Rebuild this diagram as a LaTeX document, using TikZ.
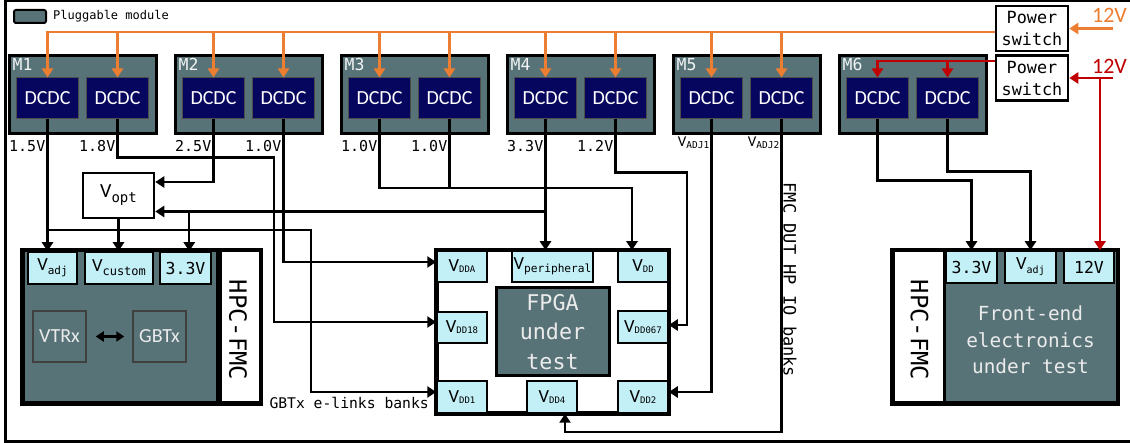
\documentclass[tikz,border=0pt]{standalone}
\usepackage{fontspec}
\newfontfamily\sansf{Carlito}
\newfontfamily\monof{DejaVu Sans Mono}
\usetikzlibrary{arrows.meta}
\definecolor{slate}{HTML}{587378}
\definecolor{navy}{HTML}{06065F}
\definecolor{tilec}{HTML}{C3EFF7}
\definecolor{orng}{HTML}{ED7D31}
\definecolor{dred}{HTML}{C00000}
\newcommand\fs[1]{\fontsize{#1}{#1}\selectfont}
% V with a small mono subscript: V size, sub size, drop, text
\newcommand\vsub[4]{{\sansf\fs{#1}V}\raisebox{-#3pt}{\monof\fs{#2}#4}}
\tikzset{
  module/.style={draw=black, line width=3pt, fill=slate, minimum width=147pt, minimum height=78pt, inner sep=0pt},
  dcdc/.style={draw=black!70, line width=1pt, fill=navy, text=white, font=\sansf\fs{20}, minimum width=62pt, minimum height=41pt, inner sep=0pt},
  mlab/.style={text=white!92!slate, font=\monof\fs{16.5}, inner sep=0pt},
  tile/.style={draw=black, line width=1.5pt, fill=tilec, inner sep=0pt, font=\monof\fs{16.5}},
  body/.style={draw=black, line width=3pt, fill=slate, minimum height=152pt, inner sep=0pt},
  strip/.style={draw=black, line width=3pt, fill=white, minimum height=152pt, inner sep=0pt},
  chip/.style={draw=black!75, line width=1.5pt, fill=slate, text=white!92!black, font=\sansf\fs{20}, minimum width=53pt, minimum height=51pt, inner sep=0pt},
  pswitch/.style={draw=black, line width=2.5pt, fill=white, minimum width=72pt, minimum height=45pt, inner sep=0pt, align=center, font=\monof\fontsize{16.8}{22}\selectfont},
  vlab/.style={font=\monof\fs{15}, inner sep=0pt},
  wire/.style={line width=2.4pt},
  owire/.style={line width=2.4pt, draw=orng},
  rwire/.style={line width=2.4pt, draw=dred},
  tip/.style={-{Triangle[length=9pt,width=11pt]}}
}
\begin{document}
\begin{tikzpicture}[x=1pt,y=-1pt]
\useasboundingbox (0,0) rectangle (1130,443);
\clip (0,0) rectangle (1130,443);
\draw[line width=3pt] (1140,1) -- (5,1) -- (5,441) -- (1140,441);

% legend
\node[module, line width=2pt, rounded corners=2pt, minimum width=32pt, minimum height=13pt] (leg) at (30,16.5) {};
\node[font=\monof\fs{12}, anchor=west, inner sep=0pt] (legtxt) at ([xshift=6pt]leg.east) {Pluggable module};

% pluggable modules
\foreach \i in {1,...,6}{
  \pgfmathsetmacro\cx{82.5+166*(\i-1)}
  \node[module] (m\i) at (\cx,95) {};
  \node[mlab, anchor=north west] (ml\i) at ([xshift=5pt,yshift=-4pt]m\i.north west) {M\i};
  \node[dcdc] (a\i) at (\cx-35,98.5) {DCDC};
  \node[dcdc] (b\i) at (\cx+35,98.5) {DCDC};
}

% output voltages
\coordinate (lab) at (0,146);
\foreach \n/\t in {a1/1.5V, b1/1.8V, a2/2.5V, b2/1.0V, a3/1.0V, b3/1.0V, a4/3.3V, b4/1.2V}
  \node[vlab, anchor=east, xshift=-2pt] (l\n) at (\n.south |- lab) {\t};
\coordinate (labb) at (0,143);
\node[inner sep=0pt, anchor=east, xshift=-2pt] (la5) at (a5.south |- labb) {\vsub{15}{9.5}{2}{ADJ1}};
\node[inner sep=0pt, anchor=east, xshift=-2pt] (lb5) at (b5.south |- labb) {\vsub{15}{9.5}{2}{ADJ2}};

% power switches
\node[pswitch] (ps1) at (1032,28.5) {Power\\switch};
\node[pswitch] (ps2) at (1032,78) {Power\\switch};
\node[text=orng, font=\sansf\fs{22}, inner sep=0pt] (v12a) at (1109.5,15) {12V};
\node[text=dred, font=\sansf\fs{22}, inner sep=0pt] (v12b) at (1109.5,66.5) {12V};
\coordinate (in12a) at (1113,28.5);
\coordinate (in12b) at (1113,78);
\coordinate (rdrop) at (1100,78);
\draw[owire, tip] (in12a) -- (ps1.east);
\draw[rwire, tip] (in12b) -- (ps2.east);

% 12V buses
\coordinate (obus) at ([yshift=-3.5pt]ps1.west);
\draw[owire, tip] (obus) -| (a1.north);
\foreach \n in {b1,a2,b2,a3,b3,a4,b4,a5,b5}
  \draw[owire, tip] (\n.north |- obus) -- (\n.north);
\coordinate (rbus) at ([yshift=17pt]ps2.west);
\draw[rwire, tip] (rbus) -| (a6.north);
\draw[rwire, tip] (b6.north |- rbus) -- (b6.north);

% V_opt
\node[draw=black, line width=2.5pt, fill=white, minimum width=71pt, minimum height=45pt, inner sep=0pt] (vopt) at (118.5,195.5) {\vsub{20}{14}{5}{opt}};

% GBTx FMC (left)
\node[body, minimum width=194pt] (lfmc) at (120,327) {};
\node[strip, minimum width=40pt, anchor=west] (lstrip) at (lfmc.east) {};
\node[font=\monof\fs{23.8}, rotate=-90, inner sep=0pt] (lhpc) at (238,330) {HPC-FMC};
\node[tile, minimum width=49pt, minimum height=32pt] (fvadj) at (52.5,268) {\vsub{18.5}{11}{4}{adj}};
\node[tile, minimum width=68pt, minimum height=32pt] (fvcust) at (119,268) {\vsub{18.5}{12}{4}{custom}};
\node[tile, minimum width=51pt, minimum height=32pt] (f33) at (185.5,268) {3.3V};
\node[chip] (vtrx) at (59.5,336.5) {VTRx};
\node[chip] (gbtx) at (159.5,336.5) {GBTx};
\draw[wire, {Triangle[length=8pt,width=10pt]}-{Triangle[length=8pt,width=10pt]}] ([xshift=9pt]vtrx.east) -- ([xshift=-8pt]gbtx.west);
\draw[line width=3pt] (lfmc.north west) rectangle (lstrip.south east);

% FPGA under test
\node[draw=black, line width=3pt, fill=white, minimum width=231pt, minimum height=162pt, inner sep=0pt] (fpga) at (552.5,332) {};
\node[draw=black, line width=3pt, fill=slate, minimum width=113pt, minimum height=88pt, inner sep=0pt, text=white!92!black, align=center, font=\monof\fontsize{21.7}{29.5}\selectfont] (core) at (552.5,332) {FPGA\\under\\test};
\node[tile, minimum width=50pt, minimum height=31pt] (vdda) at (462,266.5) {\vsub{18.5}{9}{1}{DDA}};
\node[tile, minimum width=81pt, minimum height=31pt] (vper) at (552.5,266.5) {\vsub{18.5}{11.2}{3}{peripheral}};
\node[tile, minimum width=50pt, minimum height=31pt] (vdd) at (643,266.5) {\vsub{18.5}{9}{1}{DD}};
\node[tile, minimum width=50pt, minimum height=31pt] (vdd18) at (462,327.5) {\vsub{18.5}{9}{1}{DD18}};
\node[tile, minimum width=50pt, minimum height=32pt] (vdd067) at (643,327) {\vsub{18.5}{9}{1}{DD067}};
\node[tile, minimum width=50pt, minimum height=32pt] (vdd1) at (462,397) {\vsub{18.5}{9}{1}{DD1}};
\node[tile, minimum width=50pt, minimum height=32pt] (vdd4) at (552,397) {\vsub{18.5}{9}{1}{DD4}};
\node[tile, minimum width=50pt, minimum height=32pt] (vdd2) at (643,397) {\vsub{18.5}{9}{1}{DD2}};
\draw[line width=3pt] (fpga.north west) rectangle (fpga.south east);
\node[font=\monof\fs{14.7}, anchor=east, inner sep=0pt] (elinks) at (429,403) {GBTx e-links banks};
\node[font=\monof\fs{17}, rotate=-90, inner sep=0pt] (hpio) at (790,280) {FMC DUT HP IO banks};

% front-end FMC (right)
\node[strip, minimum width=51pt] (rstrip) at (918.5,327) {};
\node[body, minimum width=173pt] (rfmc) at (1030.5,327) {};
\node[font=\monof\fs{23.8}, rotate=-90, inner sep=0pt] (rhpc) at (919.5,330) {HPC-FMC};
\node[text=white!92!black, align=center, font=\monof\fontsize{19.4}{26.5}\selectfont] (fe) at (1030.5,340) {Front-end\\electronics\\under test};
\node[tile, minimum width=51pt, minimum height=32pt] (r33) at (971.5,267) {3.3V};
\node[tile, minimum width=51pt, minimum height=32pt] (radj) at (1030.5,267) {\vsub{18.5}{10}{4}{adj}};
\node[tile, minimum width=50pt, minimum height=32pt] (r12) at (1089,267) {12V};
\draw[line width=3pt] (rstrip.north west) rectangle (rfmc.south east);

% supply wiring
\coordinate (k) at ([yshift=21pt]fvadj.north);
\coordinate (p1) at ([xshift=-125pt,yshift=5pt]vdd1.west);
\draw[wire, tip] (a1.south) -- (a1.south |- fvadj.north);
\draw[wire, tip] (a1.south |- k) -| (p1) -- (vdd1.west |- p1);
\coordinate (q2) at ([yshift=-38pt]b1.south);
\coordinate (p2) at ([xshift=-162pt,yshift=5.5pt]vdd18.west);
\draw[wire, tip] (b1.south) -- (q2) -| (p2) -- (vdd18.west |- p2);
\coordinate (j1) at ([yshift=13.5pt]vopt.east);
\draw[wire, tip] (a2.south) |- (j1);
\coordinate (p3) at ([yshift=4.5pt]vdda.west);
\draw[wire, tip] (b2.south) |- (p3);
\coordinate (p4) at ([xshift=-11pt,yshift=62pt]vdd.north);
\draw[wire, tip] (a3.south) |- (p4) -- (p4 |- vdd.north);
\draw[wire] (b3.south) -- (b3.south |- p4);
\coordinate (j) at ([yshift=-16pt]vopt.east);
\coordinate (j2) at ([xshift=34pt]j);
\draw[wire, tip] (a4.south) -- (a4.south |- vper.north);
\draw[wire, tip] (a4.south |- j) -- (j);
\draw[wire, tip] (j2) -- (j2 |- f33.north);
\draw[wire, tip] (vopt.south) -- (vopt.south |- fvcust.north);
\coordinate (q5) at ([yshift=-53pt]b4.south);
\coordinate (p5) at ([xshift=18pt,yshift=2pt]vdd067.east);
\draw[wire, tip] (b4.south) -- (q5) -| (p5) -- (vdd067.east |- p5);
\coordinate (p6) at ([yshift=5pt]vdd2.east);
\draw[wire, tip] (a5.south) |- (p6);
\coordinate (p7) at ([xshift=13pt,yshift=-18pt]vdd4.south);
\draw[wire, tip] (b5.south) |- (p7) -- (p7 |- vdd4.south);
\coordinate (q8) at ([yshift=-61pt]a6.south);
\draw[wire, tip] (a6.south) -- (q8) -| (r33.north);
\coordinate (q9) at ([yshift=-52pt]b6.south);
\draw[wire, tip] (b6.south) -- (q9) -| (radj.north);
\draw[rwire, tip] (rdrop) -- (rdrop |- r12.north);
\end{tikzpicture}
\end{document}
